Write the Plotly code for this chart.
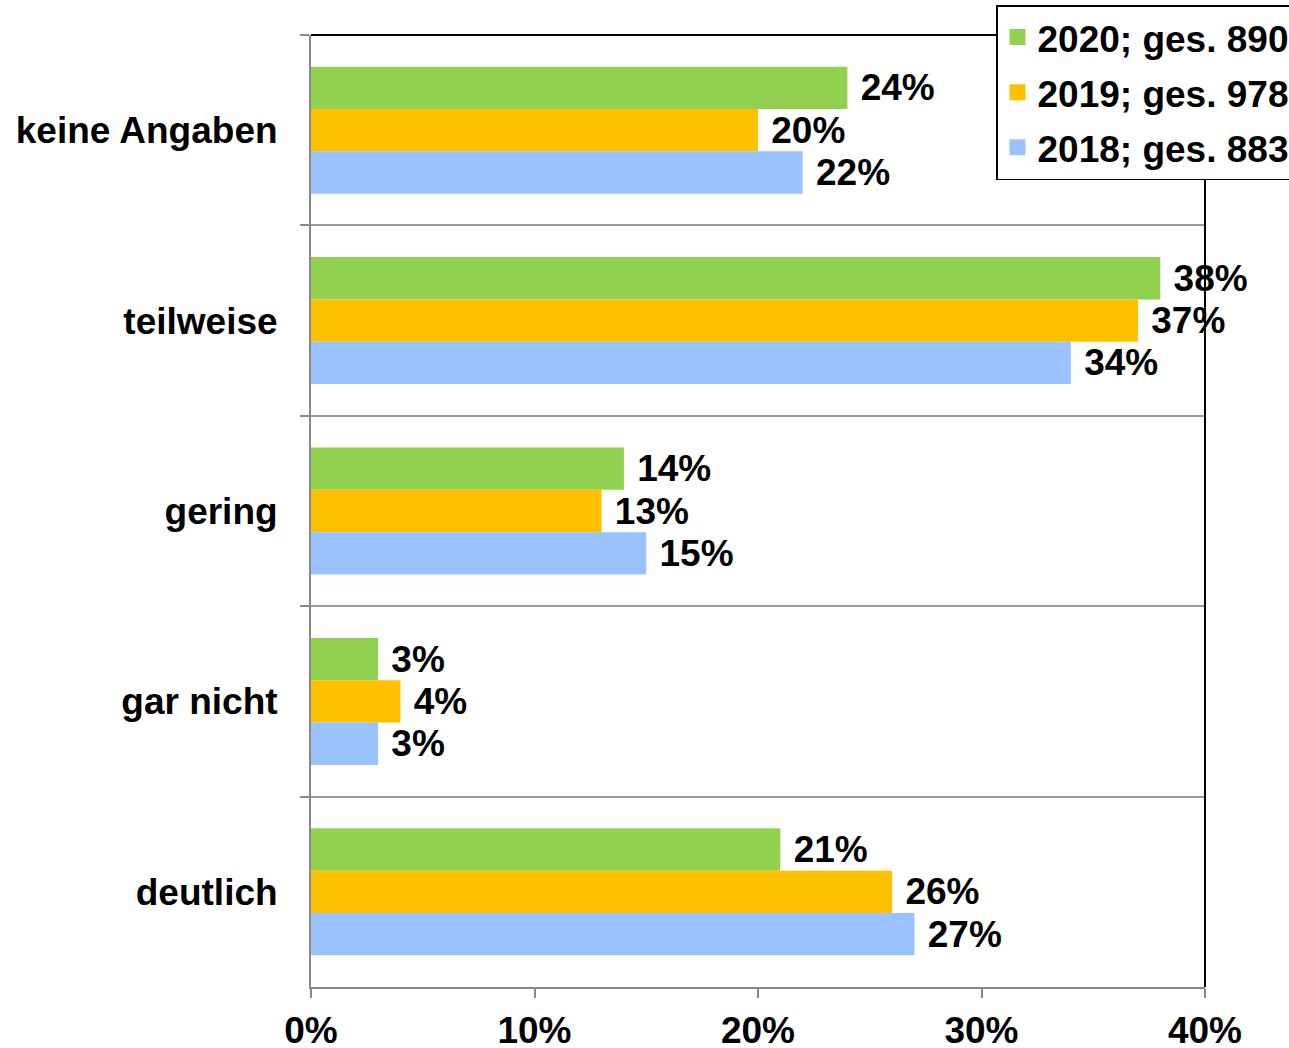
import plotly.graph_objects as go

# categories, top to bottom
categories = ["keine Angaben", "teilweise", "gering", "gar nicht", "deutlich"]

# shares in percent per survey year
werte_2020 = [24, 38, 14, 3, 21]
werte_2019 = [20, 37, 13, 4, 26]
werte_2018 = [22, 34, 15, 3, 27]

series_names = ["2020; ges. 890", "2019; ges. 978", "2018; ges. 883"]
series_colors = ["#92D050", "#FFC000", "#99C2FF"]

FONT = "Liberation Sans, Arial, sans-serif"
BOLD = dict(family=FONT, size=37, color="black", weight="bold")

fig = go.Figure()
for name, vals, color in zip(series_names, [werte_2020, werte_2019, werte_2018], series_colors):
    fig.add_trace(go.Bar(
        y=categories,
        x=[v / 100 for v in vals],
        name=name,
        orientation="h",
        marker=dict(color=color, line=dict(width=0)),
        texttemplate="\u00a0%{x:.0%}",
        textposition="outside",
        constraintext="none",
        cliponaxis=False,
        textfont=BOLD,
        showlegend=False,
    ))

# legend entries with square markers like the original
for name, color in zip(series_names, series_colors):
    fig.add_trace(go.Scatter(
        x=[None], y=[None], mode="markers", name=name, legendgroup=name,
        marker=dict(symbol="square", size=16, color=color),
    ))

fig.update_layout(
    width=1289, height=1048,
    barmode="group",
    bargap=0.333,
    bargroupgap=0,
    plot_bgcolor="white",
    paper_bgcolor="white",
    margin=dict(l=311, r=84, t=35, b=61, autoexpand=False),
    font=BOLD,
    legend=dict(
        xref="container", yref="container",
        x=0.7727, y=0.9952, xanchor="left", yanchor="top",
        bgcolor="white", bordercolor="black", borderwidth=1.5,
        font=BOLD, itemsizing="trace",
        tracegroupgap=4,
    ),
    showlegend=True,
)

fig.update_xaxes(
    range=[0, 0.4], dtick=0.1, tickformat=".0%",
    showgrid=False, zeroline=False, automargin=False,
    showline=True, linecolor="#888888", linewidth=2,
    ticks="outside", ticklen=9, tickcolor="#888888", tickwidth=1.5,
    tickfont=BOLD,
    ticklabelstandoff=1,
)
fig.update_yaxes(
    autorange="reversed",
    tickson="boundaries", automargin=False,
    showgrid=True, gridcolor="#999999", gridwidth=1.5,
    showline=True, linecolor="#888888", linewidth=2,
    ticks="outside", ticklen=9, tickcolor="#888888", tickwidth=1.5,
    tickfont=BOLD,
    ticklabelstandoff=24,
)

# black frame on top and right side
fig.add_shape(type="line", xref="x domain", yref="y domain", x0=0, x1=1, y0=1, y1=1,
              line=dict(color="black", width=2))
fig.add_shape(type="line", xref="x domain", yref="y domain", x0=1, x1=1, y0=0, y1=1,
              line=dict(color="black", width=2))

# drop the default page margin so the chart fills the window exactly
fig.write_html("out.html", config={"displayModeBar": False},
               post_script="document.body.style.margin='0';")
